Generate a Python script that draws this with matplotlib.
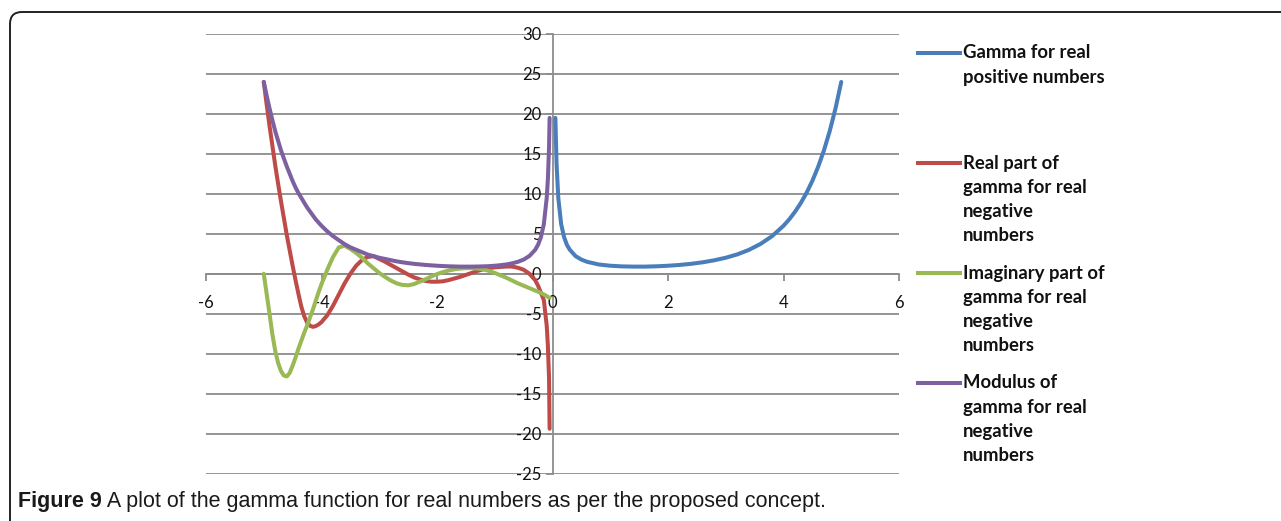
import matplotlib
matplotlib.use("Agg")
import matplotlib.pyplot as plt
from matplotlib.patches import FancyBboxPatch
from matplotlib.lines import Line2D
from matplotlib.transforms import IdentityTransform

# ---------------- data ----------------
x_pos = [0.05, 0.07, 0.1, 0.15, 0.2, 0.25, 0.3, 0.4, 0.5, 0.6, 0.8, 1.0, 1.2, 1.4,
         1.6, 1.8, 2.0, 2.2, 2.4, 2.6, 2.8, 3.0, 3.2, 3.4, 3.6, 3.8, 4.0, 4.1, 4.2,
         4.3, 4.4, 4.5, 4.6, 4.7, 4.8, 4.9, 5.0]
gamma_pos = [19.5, 13.8, 9.5, 6.2, 4.6, 3.6, 3.0, 2.2, 1.77, 1.49, 1.16, 1.0, 0.92,
             0.89, 0.89, 0.93, 1.0, 1.1, 1.24, 1.43, 1.68, 2.0, 2.42, 2.98, 3.72,
             4.69, 6.0, 6.81, 7.76, 8.86, 10.14, 11.63, 13.38, 15.43, 17.84,
             20.67, 24.0]

x_neg = [-5.0, -4.95, -4.9, -4.85, -4.8, -4.75, -4.7, -4.65, -4.6, -4.55, -4.5,
         -4.45, -4.4, -4.35, -4.3, -4.25, -4.2, -4.15, -4.1, -4.05, -4.0, -3.9,
         -3.8, -3.7, -3.6, -3.5, -3.4, -3.3, -3.2, -3.1, -3.0, -2.9, -2.8, -2.7,
         -2.6, -2.5, -2.4, -2.3, -2.2, -2.1, -2.0, -1.9, -1.8, -1.7, -1.6, -1.5,
         -1.4, -1.3, -1.2, -1.1, -1.0, -0.9, -0.8, -0.7, -0.6, -0.5, -0.4, -0.3,
         -0.25, -0.2, -0.15, -0.1, -0.08, -0.06, -0.05]
real_neg = [24.0, 21.2, 18.5, 16.0, 13.5, 11.2, 9.0, 6.9, 4.8, 2.9, 1.0,
            -0.8, -2.5, -4.1, -5.3, -6.1, -6.5, -6.65, -6.55, -6.35, -6.05, -5.2,
            -4.0, -2.6, -1.2, 0.0, 1.0, 1.7, 2.1, 2.2, 1.85, 1.5, 1.1, 0.7,
            0.3, -0.1, -0.45, -0.7, -0.9, -1.0, -1.0, -0.95, -0.8, -0.6, -0.4, -0.15,
            0.1, 0.35, 0.55, 0.7, 0.8, 0.85, 0.9, 0.9, 0.75, 0.5, 0.0, -0.8,
            -1.5, -2.4, -3.3, -6.5, -9.0, -13.0, -19.4]
imag_neg = [0.0, -2.5, -5.0, -7.6, -9.7, -11.2, -12.2, -12.75, -12.85, -12.4, -11.5,
            -10.5, -9.4, -8.4, -7.4, -6.5, -5.5, -4.5, -3.4, -2.3, -1.3, 0.5,
            2.1, 3.3, 3.5, 3.1, 2.6, 2.0, 1.3, 0.7, 0.1, -0.4, -0.85, -1.2,
            -1.4, -1.45, -1.3, -1.0, -0.7, -0.35, -0.05, 0.2, 0.4, 0.55, 0.65, 0.7,
            0.7, 0.65, 0.55, 0.35, 0.1, -0.2, -0.5, -0.85, -1.2, -1.5, -1.8, -2.1,
            -2.25, -2.4, -2.6, -2.8, -2.9, -3.0, -3.0]
mod_neg = [24.0, 22.3, 20.7, 19.2, 17.8, 16.6, 15.4, 14.4, 13.4, 12.5, 11.6,
           10.8, 10.1, 9.5, 8.9, 8.3, 7.8, 7.3, 6.8, 6.4, 6.0, 5.3,
           4.7, 4.2, 3.7, 3.3, 3.0, 2.7, 2.4, 2.2, 2.0, 1.85, 1.7, 1.55,
           1.43, 1.33, 1.24, 1.17, 1.1, 1.05, 1.0, 0.96, 0.93, 0.91, 0.89, 0.89,
           0.89, 0.9, 0.92, 0.95, 1.0, 1.07, 1.16, 1.3, 1.49, 1.77, 2.22, 2.99,
           3.63, 4.59, 6.2, 9.5, 11.8, 15.8, 19.5]

labels = [["Gamma for real", "positive numbers"],
          ["Real part of", "gamma for real", "negative", "numbers"],
          ["Imaginary part of", "gamma for real", "negative", "numbers"],
          ["Modulus of", "gamma for real", "negative", "numbers"]]
colors = ["#4A7EBB", "#BE4B48", "#98B954", "#7D60A0"]
x_ticks = [-6, -4, -2, 0, 2, 4, 6]
y_ticks = [-25, -20, -15, -10, -5, 0, 5, 10, 15, 20, 25, 30]
caption_bold = "Figure 9"
caption_rest = " A plot of the gamma function for real numbers as per the proposed concept."

# ---------------- figure ----------------
W, H, DPI = 1281, 521, 100
fig = plt.figure(figsize=(W / DPI, H / DPI), dpi=DPI)
fig.patch.set_facecolor("white")

tick_font = ["Lato", "DejaVu Sans"]
grid_col = "#8C8C8C"

ax = fig.add_axes([206 / W, 1 - 473.5 / H, (899 - 206) / W, (473.5 - 34) / H])
ax.set_xlim(-6, 6)
ax.set_ylim(-25, 30)
ax.patch.set_alpha(0)

for yv in y_ticks:
    ax.axhline(yv, color=grid_col, lw=1.3, zorder=1)

for s in ["top", "right"]:
    ax.spines[s].set_visible(False)
ax.spines["left"].set_position(("data", 0))
ax.spines["bottom"].set_position(("data", 0))
for s in ["left", "bottom"]:
    ax.spines[s].set_color(grid_col)
    ax.spines[s].set_linewidth(1.3)
    ax.spines[s].set_zorder(1.5)

ax.set_xticks(x_ticks)
ax.set_yticks(y_ticks)
ax.set_xticklabels([str(v) for v in x_ticks])
ax.set_yticklabels([str(v) for v in y_ticks])
ax.tick_params(axis="x", direction="out", length=5, width=1.3, color=grid_col,
               pad=10, labelsize=12)
ax.tick_params(axis="y", direction="out", length=5, width=1.3, color=grid_col,
               pad=3, labelsize=12)
for lab in ax.get_xticklabels() + ax.get_yticklabels():
    lab.set_family(tick_font)
    lab.set_color("#111111")
    lab.set_zorder(5)

lw = 2.9
ax.plot(x_pos, gamma_pos, color=colors[0], lw=lw, solid_capstyle="round",
        solid_joinstyle="round", zorder=3)
ax.plot(x_neg, real_neg, color=colors[1], lw=lw, solid_capstyle="round",
        solid_joinstyle="round", zorder=3)
ax.plot(x_neg, imag_neg, color=colors[2], lw=lw, solid_capstyle="round",
        solid_joinstyle="round", zorder=3)
ax.plot(x_neg, mod_neg, color=colors[3], lw=lw, solid_capstyle="round",
        solid_joinstyle="round", zorder=3)

# ---------------- legend (manual) ----------------
entry_top = [53, 163, 273, 383]
line_step = 24.3
for i, (lines, col) in enumerate(zip(labels, colors)):
    y0 = entry_top[i]
    fig.add_artist(Line2D([918 / W, 960 / W], [1 - y0 / H, 1 - y0 / H],
                          color=col, lw=2.9, transform=fig.transFigure))
    for j, t in enumerate(lines):
        fig.text(963 / W, 1 - (y0 + j * line_step) / H, t, ha="left", va="center",
                 fontsize=13.3, fontweight="bold", family=tick_font, color="#111111")

# ---------------- border ----------------
box = FancyBboxPatch((10, -60), 1500, H - 12 + 60,
                     boxstyle="round,pad=0,rounding_size=12",
                     fc="none", ec="#222222", lw=1.4, transform=IdentityTransform())
fig.add_artist(box)

# ---------------- caption ----------------
cap_font = ["Liberation Sans", "DejaVu Sans"]
cy = 1 - 501 / H
cap_size = 15.5
t1 = fig.text(18 / W, cy, caption_bold, ha="left", va="center", fontsize=cap_size,
              fontweight="bold", family=cap_font, color="#1a1a1a")
fig.canvas.draw()
r = fig.canvas.get_renderer()
bb = t1.get_window_extent(r)
fig.text(bb.x1 / W, cy, caption_rest, ha="left", va="center", fontsize=cap_size,
         family=cap_font, color="#1a1a1a")

fig.savefig("out.png", dpi=DPI)
